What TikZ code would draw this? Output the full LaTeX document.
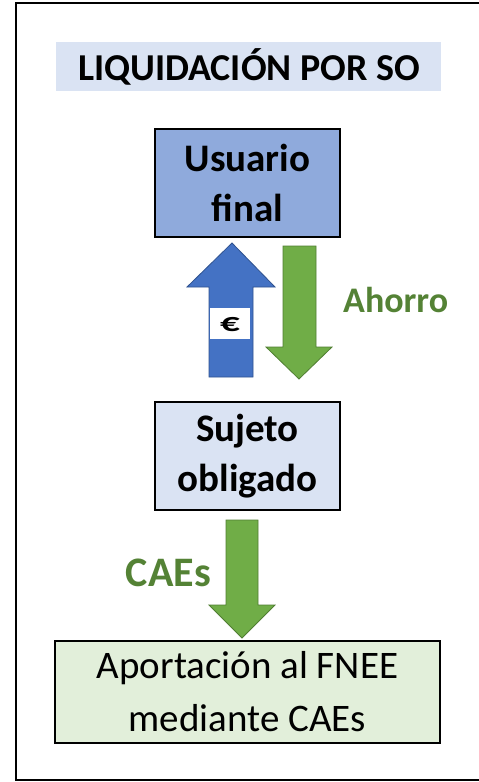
\documentclass[tikz,border=0pt]{standalone}
\usepackage{fontspec}
\setmainfont{Carlito}
\definecolor{bandblue}{HTML}{DAE3F3}
\definecolor{boxblue}{HTML}{8FAADC}
\definecolor{boxgreen}{HTML}{E2EFDA}
\definecolor{arrblue}{HTML}{4472C4}
\definecolor{arrblueline}{HTML}{2F528F}
\definecolor{arrgreen}{HTML}{70AD47}
\definecolor{arrgreenline}{HTML}{507E32}
\definecolor{txtgreen}{HTML}{548235}
\begin{document}
\begin{tikzpicture}[x=1pt,y=-1pt,
  box/.style={draw=black,line width=2.2pt,minimum width=185pt,minimum height=108pt,align=center,inner sep=0pt},
  garrow/.style={fill=arrgreen,draw=arrgreenline,line width=0.8pt},
  barrow/.style={fill=arrblue,draw=arrblueline,line width=0.8pt},
  lbl/.style={text=txtgreen,inner sep=0pt}]
\useasboundingbox (0,0) rectangle (479,782);
\clip (0,0) rectangle (479,782);
\fill[white] (0,0) rectangle (479,782);
\draw[line width=2pt] (16,3) rectangle (560,780);
% title band
\fill[bandblue] (56,42) rectangle (441,91);
\node[font=\bfseries\fontsize{38}{44}\selectfont,inner sep=0pt] (title) at (249,67) {LIQUIDACIÓN POR SO};
% boxes
\node[box,fill=boxblue,font=\bfseries\fontsize{39}{50}\selectfont] (uf) at (247.5,183) {Usuario\\final};
\node[box,fill=bandblue,font=\bfseries\fontsize{39}{50}\selectfont] (so) at (247.5,456) {Sujeto\\obligado};
\node[box,fill=boxgreen,minimum width=385pt,minimum height=102pt,font=\fontsize{39}{53}\selectfont] (fnee) at (247.5,692) {Aportación al FNEE\\mediante CAEs};
% blue up arrow
\draw[barrow] (209,377) -- (209,287) -- (187,287) -- (232,243) -- (275,287) -- (253,287) -- (253,377) -- cycle;
\fill[white] (210,308) rectangle (250,339);
\node[inner sep=0pt,font=\bfseries\fontsize{26}{30}\selectfont] (euro) at (230,325) {\scalebox{1.5}[1]{€}};
% green down arrow (Ahorro)
\draw[garrow] (283,246) -- (316,246) -- (316,347) -- (332,347) -- (299,379) -- (266,347) -- (283,347) -- cycle;
\node[lbl,anchor=west,font=\bfseries\fontsize{36}{40}\selectfont] (ahorro) at (343,300) {Ahorro};
% green down arrow (CAEs)
\draw[garrow] (226,520) -- (258,520) -- (258,605) -- (275,605) -- (242,638) -- (209,605) -- (226,605) -- cycle;
\node[lbl,anchor=east,font=\bfseries\fontsize{42}{46}\selectfont] (caes) at (211,573) {CAEs};
\end{tikzpicture}
\end{document}
